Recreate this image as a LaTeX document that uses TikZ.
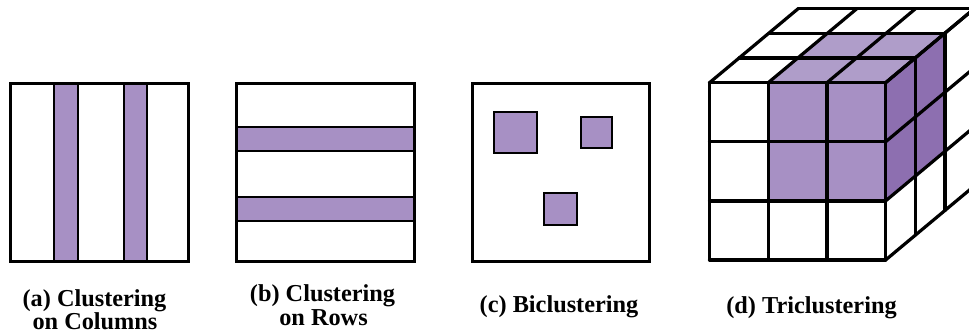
\documentclass[tikz,border=0pt]{standalone}
\usepackage{fontspec}
\setmainfont{Liberation Serif}
\definecolor{lilac}{RGB}{167,144,196}
\definecolor{lilactop}{RGB}{175,157,201}
\definecolor{lilacside}{RGB}{141,111,176}
% grid point of the 3x3x3 cube: column, row, depth layer
\newcommand\cpt[3]{({709.5+58.7*(#1)+29.7*(#3)},{82.7+59.1*(#2)-24.8*(#3)})}
\begin{document}
\begin{tikzpicture}[x=1pt,y=-1pt,
  frame/.style={draw=black,line width=3pt,fill=white},
  band/.style={draw=black,line width=2pt,fill=lilac},
  block/.style={draw=black,line width=2.2pt,fill=lilac},
  grid/.style={draw=black,line width=3.2pt,line cap=round,line join=round},
  caption/.style={font=\fontsize{24.3}{26}\selectfont\bfseries,anchor=base,inner sep=0pt}]
\useasboundingbox[fill=white] (0,0) rectangle (969,335);

% (a) clusters on columns
\draw[frame] (10,83.3) rectangle (188.3,261.7);
\draw[band] (54.3,83.3) rectangle (77.7,261.7);
\draw[band] (124.3,83.3) rectangle (146.7,261.7);
\draw[line width=3pt] (10,83.3) rectangle (188.3,261.7);

% (b) clusters on rows
\draw[frame] (236.7,83.3) rectangle (414.3,261);
\draw[band] (236.7,127.3) rectangle (414.3,151);
\draw[band] (236.7,197) rectangle (414.3,220.7);
\draw[line width=3pt] (236.7,83.3) rectangle (414.3,261);

% (c) biclusters
\draw[frame] (472.3,83.3) rectangle (649.3,261.7);
\draw[block] (494,111.7) rectangle (536.7,153.3);
\draw[block] (580.7,116.7) rectangle (612.3,148.3);
\draw[block] (544.3,192.7) rectangle (577.3,225);

% (d) triclusters: faces of the cube
\fill[white] \cpt{0}{0}{0} -- \cpt{0}{0}{3} -- \cpt{3}{0}{3} -- \cpt{3}{3}{3} -- \cpt{3}{3}{0} -- \cpt{0}{3}{0} -- cycle;
\fill[lilac] \cpt{1}{0}{0} rectangle \cpt{3}{2}{0};
\fill[lilactop] \cpt{1}{0}{0} -- \cpt{1}{0}{2} -- \cpt{3}{0}{2} -- \cpt{3}{0}{0} -- cycle;
\fill[lilacside] \cpt{3}{0}{0} -- \cpt{3}{0}{2} -- \cpt{3}{2}{2} -- \cpt{3}{2}{0} -- cycle;
% grid lines of the three visible faces
\foreach \i in {0,...,3} {
  \draw[grid] \cpt{\i}{0}{0} -- \cpt{\i}{0}{3};
  \draw[grid] \cpt{0}{0}{\i} -- \cpt{3}{0}{\i};
  \draw[grid] \cpt{\i}{0}{0} -- \cpt{\i}{3}{0};
  \draw[grid] \cpt{0}{\i}{0} -- \cpt{3}{\i}{0};
  \draw[grid] \cpt{3}{0}{\i} -- \cpt{3}{3}{\i};
  \draw[grid] \cpt{3}{\i}{0} -- \cpt{3}{\i}{3};
}

% captions
\node[caption] (capa1) at (94.5,306) {(a) Clustering};
\node[caption] (capa2) at (95,329.5) {on Columns};
\node[caption] (capb1) at (322.5,301.7) {(b) Clustering};
\node[caption] (capb2) at (323.5,325.7) {on Rows};
\node[caption] (capc) at (559,312.7) {(c) Biclustering};
\node[caption] (capd) at (811.5,313.3) {(d) Triclustering};
\end{tikzpicture}
\end{document}
